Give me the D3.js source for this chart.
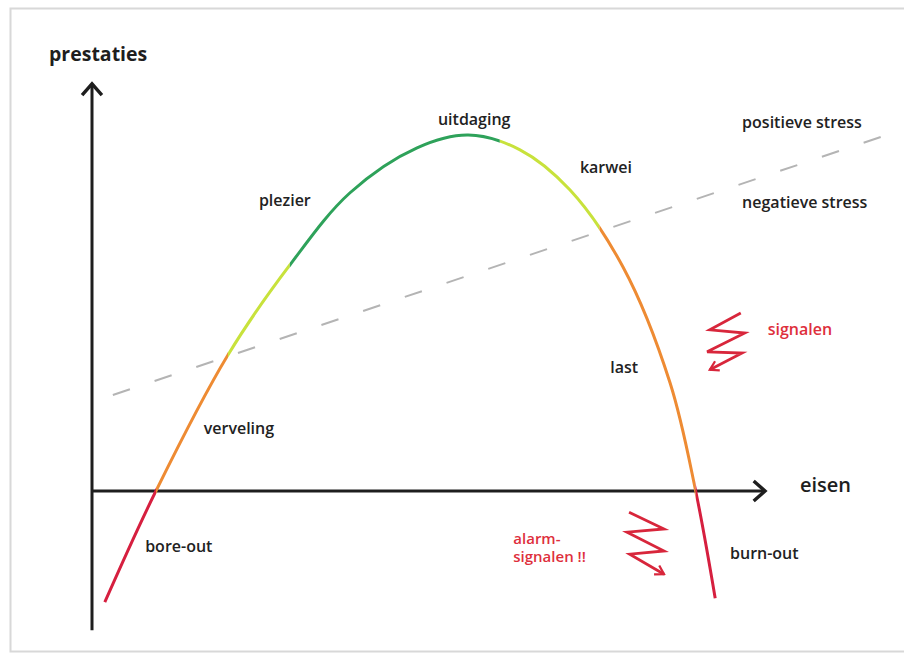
<!DOCTYPE html>
<html>
<head>
<meta charset="utf-8">
<script src="https://cdn.jsdelivr.net/npm/d3@7"></script>
<style>
  body { margin: 0; background: #fff; }
  svg { display: block; font-family: "Open Sans", "Noto Sans", sans-serif; }
</style>
</head>
<body>
<svg id="chart" width="904" height="654"></svg>
<script>
// curve: eisen (x) vs prestaties (y), arbitrary units
const eisen      = [1.9, 9.5, 20.2, 29.4, 38.3, 48.3, 55.9, 63.6, 71.0, 78.9, 85.9, 89.7, 92.6];
const prestaties = [-27.8, 0, 34, 56.5, 74.5, 85.8, 89, 85.3, 75.3, 56, 27, 0, -26.8];

// zones along the eisen axis
const zoneNames = ["bore-out", "verveling", "plezier", "uitdaging", "karwei", "last", "burn-out"];
const zoneStart = [0, 9.5, 20.2, 29.4, 60.6, 75.4, 89.7];
const zoneEnd   = [9.5, 20.2, 29.4, 60.6, 75.4, 89.7, 100];
const zoneKind  = ["red", "orange", "yellow", "green", "yellow", "orange", "red"];

// grens positieve / negatieve stress
const stressX = [3.1, 118.1];
const stressY = [24, 89];

// waarschuwingspijlen
const signalX = [96.4, 91.8, 97.0, 91.4, 96.6, 91.8];
const signalY = [44.5, 40.3, 39.5, 34.8, 34.5, 30.3];
const alarmX  = [79.8, 85.0, 79.5, 85.0, 79.9, 85.0];
const alarmY  = [-5.3, -9.5, -10.3, -15, -15.8, -20.8];

// labels
const labelText = ["uitdaging", "positieve stress", "karwei", "plezier", "negatieve stress", "last", "verveling", "bore-out", "burn-out"];
const labelX    = [51.4, 96.6, 72.5, 24.8, 96.6, 77.0, 16.6, 7.9, 94.8];
const labelY    = [91.6, 90.8, 79.5, 71.3, 70.8, 29.5, 14.3, -15.3, -17.0];
const redText   = ["signalen", "alarm-", "signalen !!"];
const redX      = [100.4, 62.6, 62.6];
const redY      = [39.0, -13.2, -17.8];
const redSize   = [16, 15, 15];

const svg = d3.select("#chart");

// kader
svg.append("rect")
  .attr("x", 10.5).attr("y", 8.5)
  .attr("width", 900).attr("height", 643)
  .attr("fill", "#fff")
  .attr("stroke", "#d8d8d8")
  .attr("stroke-width", 2);

const x = d3.scaleLinear().domain([0, 100]).range([92, 765]);
const y = d3.scaleLinear().domain([0, 100]).range([491, 91]);

const color = d3.scaleOrdinal()
  .domain(["red", "orange", "yellow", "green"])
  .range(["#d61f3f", "#ee8b33", "#c8e23c", "#2ea25a"]);

const defs = svg.append("defs");

defs.append("marker")
  .attr("id", "axisArrow")
  .attr("viewBox", "-10 -8 12 16")
  .attr("markerUnits", "userSpaceOnUse")
  .attr("markerWidth", 17).attr("markerHeight", 26)
  .attr("refX", 0).attr("refY", 0)
  .attr("orient", "auto")
  .append("path")
  .attr("d", "M-8,-7L0,0L-8,7")
  .attr("fill", "none")
  .attr("stroke", "#1e1e1e")
  .attr("stroke-width", 2.4);

defs.append("marker")
  .attr("id", "redArrow")
  .attr("viewBox", "-12 -8 14 16")
  .attr("markerUnits", "userSpaceOnUse")
  .attr("markerWidth", 12).attr("markerHeight", 14)
  .attr("refX", 0).attr("refY", 0)
  .attr("orient", "auto")
  .append("path")
  .attr("d", "M-10,-6L0,0L-10,6")
  .attr("fill", "none")
  .attr("stroke", "#d8263b")
  .attr("stroke-width", 2.6);

// stressgrens
svg.append("line")
  .attr("x1", x(stressX[0])).attr("y1", y(stressY[0]))
  .attr("x2", x(stressX[1])).attr("y2", y(stressY[1]))
  .attr("stroke", "#b4b4b4")
  .attr("stroke-width", 2)
  .attr("stroke-dasharray", "18 26");

// assen
svg.append("line")
  .attr("x1", x(0)).attr("y1", y(-34.8))
  .attr("x2", x(0)).attr("y2", y(101.8))
  .attr("stroke", "#1e1e1e")
  .attr("stroke-width", 3)
  .attr("marker-end", "url(#axisArrow)");

svg.append("line")
  .attr("x1", x(0)).attr("y1", y(0))
  .attr("x2", x(100)).attr("y2", y(0))
  .attr("stroke", "#1e1e1e")
  .attr("stroke-width", 3)
  .attr("marker-end", "url(#axisArrow)");

// curve, per zone geknipt
const points = eisen.map((e, i) => [e, prestaties[i]]);
const line = d3.line()
  .x(d => x(d[0]))
  .y(d => y(d[1]))
  .curve(d3.curveCatmullRom.alpha(0.5));

zoneNames.forEach((name, i) => {
  defs.append("clipPath")
    .attr("id", "zone" + i)
    .append("rect")
    .attr("x", x(zoneStart[i]))
    .attr("y", 0)
    .attr("width", x(zoneEnd[i]) - x(zoneStart[i]))
    .attr("height", 654);

  svg.append("path")
    .datum(points)
    .attr("class", "zone " + name)
    .attr("clip-path", `url(#zone${i})`)
    .attr("d", line)
    .attr("fill", "none")
    .attr("stroke", color(zoneKind[i]))
    .attr("stroke-width", 3);
});

// zigzag pijlen
const zig = d3.line().x(d => x(d[0])).y(d => y(d[1]));
[[signalX, signalY], [alarmX, alarmY]].forEach(([xs, ys]) => {
  svg.append("path")
    .datum(xs.map((v, i) => [v, ys[i]]))
    .attr("d", zig)
    .attr("fill", "none")
    .attr("stroke", "#d8263b")
    .attr("stroke-width", 2.8)
    .attr("stroke-linejoin", "miter")
    .attr("marker-end", "url(#redArrow)");
});

// teksten
svg.append("text")
  .attr("x", 49).attr("y", 61)
  .attr("font-size", 19.5)
  .attr("font-weight", 700)
  .attr("fill", "#1e1e1e")
  .text("prestaties");

svg.append("text")
  .attr("x", x(105.2)).attr("y", y(-0.3))
  .attr("font-size", 20)
  .attr("font-weight", 600)
  .attr("fill", "#1e1e1e")
  .text("eisen");

svg.selectAll("text.label")
  .data(labelText)
  .join("text")
  .attr("class", "label")
  .attr("x", (d, i) => x(labelX[i]))
  .attr("y", (d, i) => y(labelY[i]))
  .attr("font-size", 16)
  .attr("font-weight", 600)
  .attr("fill", "#222")
  .text(d => d);

svg.selectAll("text.red")
  .data(redText)
  .join("text")
  .attr("class", "red")
  .attr("x", (d, i) => x(redX[i]))
  .attr("y", (d, i) => y(redY[i]))
  .attr("font-size", (d, i) => redSize[i])
  .attr("font-weight", 600)
  .attr("fill", "#de2f3c")
  .text(d => d);
</script>
</body>
</html>
